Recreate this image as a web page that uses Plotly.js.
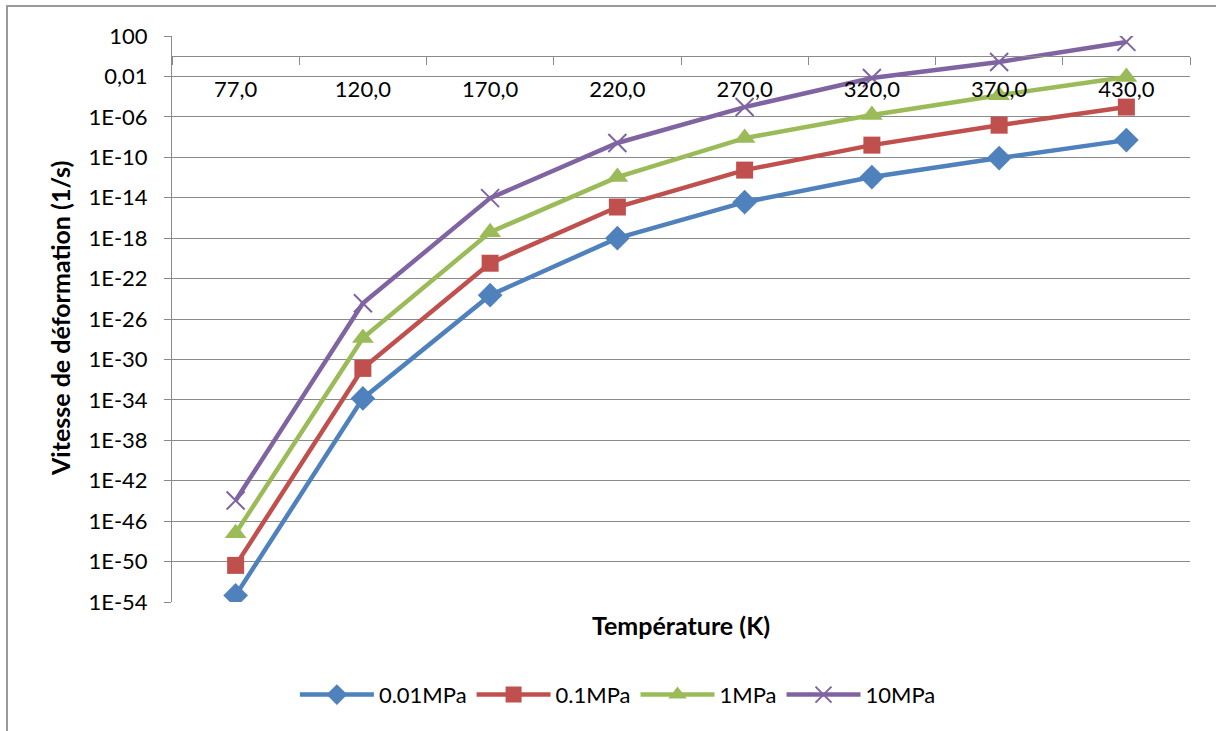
<!DOCTYPE html>
<html>
<head>
<meta charset="utf-8">
<script src="https://cdn.plot.ly/plotly-3.0.1.min.js"></script>
<style>html,body{margin:0;padding:0;background:#fff;}#chart{width:1216px;height:731px;}</style>
</head>
<body>
<div id="chart"></div>
<script>
const temperatures = ['77,0', '120,0', '170,0', '220,0', '270,0', '320,0', '370,0', '430,0'];
const seriesNames = ['0.01MPa', '0.1MPa', '1MPa', '10MPa'];
const rate001MPa = [4.5e-54, 1.4e-34, 2.3e-24, 1.0e-18, 3.6e-15, 1.1e-12, 8.3e-11, 5.0e-9];
const rate01MPa  = [4.2e-51, 1.3e-31, 3.3e-21, 1.2e-15, 5.4e-12, 1.6e-9, 1.5e-7, 9.3e-6];
const rate1MPa   = [6.3e-48, 1.3e-28, 3.9e-18, 1.1e-12, 7.9e-9, 1.5e-6, 1.4e-4, 8.7e-3];
const rate10MPa  = [1.1e-44, 3.6e-25, 9.1e-15, 2.6e-9, 9.3e-6, 6.9e-3, 0.27, 26];
const yTickValues = [1e2, 1e-2, 1e-6, 1e-10, 1e-14, 1e-18, 1e-22, 1e-26, 1e-30, 1e-34, 1e-38, 1e-42, 1e-46, 1e-50, 1e-54];
const yTickLabels = ['100', '0,01', '1E-06', '1E-10', '1E-14', '1E-18', '1E-22', '1E-26', '1E-30', '1E-34', '1E-38', '1E-42', '1E-46', '1E-50', '1E-54'];

const FONT = 'Lato, "Open Sans", sans-serif';
const colors = ['#4F81BD', '#C0504D', '#9BBB59', '#8064A2'];
const symbols = ['diamond', 'square', 'triangle-up', 'x-thin'];
const sizes = [19, 17, 19, 18];
const allSeries = [rate001MPa, rate01MPa, rate1MPa, rate10MPa];

const traces = allSeries.map((vals, i) => ({
  type: 'scatter',
  mode: 'lines+markers',
  name: seriesNames[i],
  x: temperatures,
  y: vals,
  line: {color: colors[i], width: 4.5},
  marker: {
    symbol: symbols[i],
    size: sizes[i],
    color: colors[i],
    line: {color: colors[i], width: symbols[i] === 'x-thin' ? 2 : 0}
  }
}));

const layout = {
  width: 1216,
  height: 731,
  margin: {l: 172, r: 26, t: 36, b: 129},
  paper_bgcolor: '#ffffff',
  plot_bgcolor: '#ffffff',
  font: {family: FONT, size: 22, color: '#000000'},
  showlegend: true,
  legend: {
    orientation: 'h',
    x: 0.438, xanchor: 'center',
    y: -0.164, yanchor: 'middle',
    font: {family: FONT, size: 22, color: '#000'},
    itemwidth: 74,
    traceorder: 'normal'
  },
  xaxis: {
    type: 'category',
    range: [-0.5, 7.5],
    anchor: 'free',
    position: 0.9643,
    showgrid: false,
    zeroline: false,
    showline: true,
    linecolor: '#8a8a8a',
    linewidth: 1,
    ticks: 'outside',
    tickson: 'boundaries',
    ticklen: 8,
    tickcolor: '#8a8a8a',
    ticklabelstandoff: 13,
    tickfont: {family: FONT, size: 22, color: '#000'}
  },
  yaxis: {
    type: 'log',
    range: [-54, 2],
    tickmode: 'array',
    tickvals: yTickValues,
    ticktext: yTickLabels,
    showgrid: true,
    gridcolor: '#8a8a8a',
    gridwidth: 1,
    zeroline: false,
    showline: true,
    linecolor: '#8a8a8a',
    linewidth: 1,
    ticks: 'outside',
    ticklen: 7,
    tickcolor: '#8a8a8a',
    ticklabelstandoff: 12,
    tickfont: {family: FONT, size: 22, color: '#000'}
  },
  annotations: [
    {
      text: '<b>Température (K)</b>',
      xref: 'paper', yref: 'paper',
      x: 0.5, y: (602 - 625) / 566,
      xanchor: 'center', yanchor: 'middle',
      showarrow: false,
      font: {family: FONT, size: 25, color: '#000'}
    },
    {
      text: '<b>Vitesse de déformation (1/s)</b>',
      xref: 'paper', yref: 'paper',
      x: (60 - 172) / 1018, y: 0.5,
      xanchor: 'center', yanchor: 'middle',
      textangle: -90,
      showarrow: false,
      font: {family: FONT, size: 25, color: '#000'}
    }
  ],
  shapes: [
    {
      type: 'rect', xref: 'paper', yref: 'paper',
      x0: (7 - 172) / 1018, x1: (1230 - 172) / 1018,
      y0: (602 - 745) / 566, y1: (602 - 6) / 566,
      line: {color: '#9a9a9a', width: 2},
      fillcolor: 'rgba(0,0,0,0)',
      layer: 'below'
    }
  ]
};

Plotly.newPlot('chart', traces, layout, {displayModeBar: false, staticPlot: true});
</script>
</body>
</html>
